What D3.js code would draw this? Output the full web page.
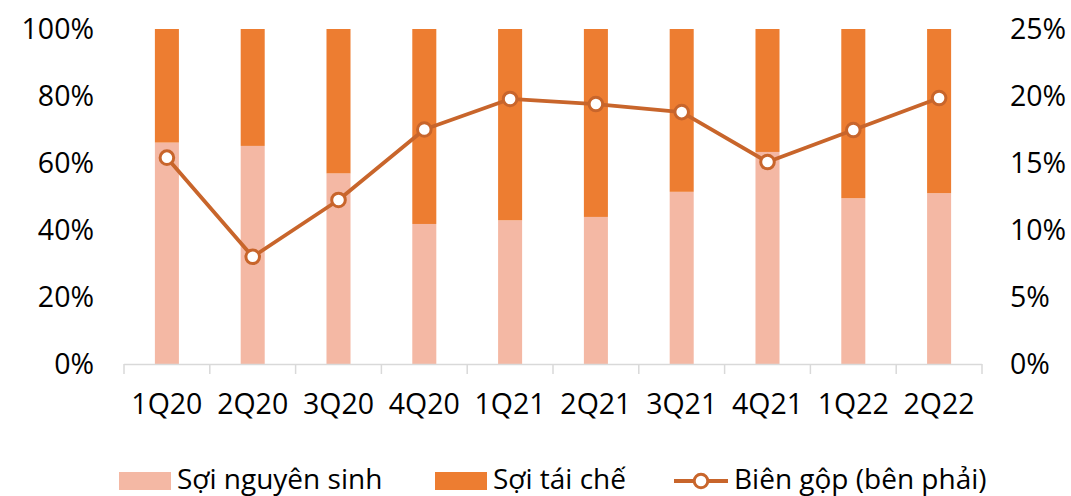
<!DOCTYPE html>
<html>
<head>
<meta charset="utf-8">
<script src="https://cdn.jsdelivr.net/npm/d3@7"></script>
<style>
  body { margin: 0; background: #fff; }
  svg text { font-family: "Open Sans", sans-serif; fill: #000; }
</style>
</head>
<body>
<svg id="chart" width="1071" height="496"></svg>
<script>
// data
const quarters = ['1Q20','2Q20','3Q20','4Q20','1Q21','2Q21','3Q21','4Q21','1Q22','2Q22'];
const soiNguyenSinh = [0.661, 0.651, 0.569, 0.418, 0.429, 0.439, 0.514, 0.633, 0.495, 0.51];
const soiTaiChe = soiNguyenSinh.map(v => 1 - v); // rest of the 100%
const bienGop = [0.154, 0.080, 0.1224, 0.175, 0.1978, 0.194, 0.188, 0.1507, 0.1746, 0.1985];
const leftTicks = [0, 0.2, 0.4, 0.6, 0.8, 1];
const rightTicks = [0, 0.05, 0.1, 0.15, 0.2, 0.25];

const cPink = '#F4B8A4', cOrange = '#ED7D31', cLine = '#C8652B';
const fs = 28.5;

var svg = d3.select('#chart');
var x0 = 124, x1 = 982, yTop = 29, yBot = 364;

var x = d3.scaleBand().domain(quarters).range([x0, x1]).paddingInner(0.72).paddingOuter(0.36);
var yL = d3.scaleLinear().domain([0, 1]).range([yBot, yTop]);
var yR = d3.scaleLinear().domain([0, 0.25]).range([yBot, yTop]);

// stacked bars
var stackData = quarters.map((q, i) => ({q: q, a: soiNguyenSinh[i], b: soiTaiChe[i]}));
var series = d3.stack().keys(['a', 'b'])(stackData);
var colors = {a: cPink, b: cOrange};

svg.append('g').selectAll('g').data(series).enter()
  .append('g')
  .attr('fill', d => colors[d.key])
  .selectAll('rect').data(d => d).enter()
  .append('rect')
    .attr('x', d => x(d.data.q))
    .attr('width', x.bandwidth())
    .attr('y', d => yL(d[1]))
    .attr('height', d => yL(d[0]) - yL(d[1]));

// x axis line + ticks at band boundaries
var step = (x1 - x0) / quarters.length;
var ax = svg.append('g');
ax.append('line')
  .attr('x1', x0).attr('x2', x1).attr('y1', yBot + 0.5).attr('y2', yBot + 0.5)
  .attr('stroke', '#D9D9D9').attr('stroke-width', 1.5);
ax.selectAll('line.tk').data(d3.range(quarters.length + 1)).enter()
  .append('line').attr('class', 'tk')
    .attr('x1', d => x0 + d * step).attr('x2', d => x0 + d * step)
    .attr('y1', yBot).attr('y2', yBot + 10)
    .attr('stroke', '#D9D9D9').attr('stroke-width', 1.5);
ax.selectAll('text').data(quarters).enter()
  .append('text')
    .attr('x', d => x(d) + x.bandwidth() / 2)
    .attr('y', 414)
    .attr('text-anchor', 'middle')
    .attr('font-size', fs)
    .text(d => d);

// left axis labels
svg.append('g').selectAll('text').data(leftTicks).enter()
  .append('text')
    .attr('x', 94)
    .attr('y', d => yL(d) + 10)
    .attr('text-anchor', 'end')
    .attr('font-size', fs)
    .text(d => d3.format('.0%')(d));

// right axis labels
svg.append('g').selectAll('text').data(rightTicks).enter()
  .append('text')
    .attr('x', 1010)
    .attr('y', d => yR(d) + 10)
    .attr('text-anchor', 'start')
    .attr('font-size', fs)
    .text(d => d3.format('.0%')(d));

// margin line
var cx = i => x(quarters[i]) + x.bandwidth() / 2;
var line = d3.line().x((d, i) => cx(i)).y(d => yR(d));
svg.append('path').datum(bienGop)
  .attr('d', line)
  .attr('fill', 'none')
  .attr('stroke', cLine)
  .attr('stroke-width', 3.8)
  .attr('stroke-linejoin', 'round');
svg.append('g').selectAll('circle').data(bienGop).enter()
  .append('circle')
    .attr('cx', (d, i) => cx(i))
    .attr('cy', d => yR(d))
    .attr('r', 6.8)
    .attr('fill', '#fff')
    .attr('stroke', cLine)
    .attr('stroke-width', 3);

// legend
var lg = svg.append('g');
lg.append('rect').attr('x', 119).attr('y', 472).attr('width', 52).attr('height', 18).attr('fill', cPink);
lg.append('text').attr('x', 177).attr('y', 489).attr('font-size', 28).text('Sợi nguyên sinh');
lg.append('rect').attr('x', 435).attr('y', 472).attr('width', 52).attr('height', 18).attr('fill', cOrange);
lg.append('text').attr('x', 493).attr('y', 489).attr('font-size', 28).text('Sợi tái chế');
lg.append('line').attr('x1', 674).attr('x2', 728).attr('y1', 481).attr('y2', 481)
  .attr('stroke', cLine).attr('stroke-width', 3.8);
lg.append('circle').attr('cx', 701).attr('cy', 481).attr('r', 6.8)
  .attr('fill', '#fff').attr('stroke', cLine).attr('stroke-width', 3);
lg.append('text').attr('x', 734).attr('y', 489).attr('font-size', 28).text('Biên gộp (bên phải)');
</script>
</body>
</html>
